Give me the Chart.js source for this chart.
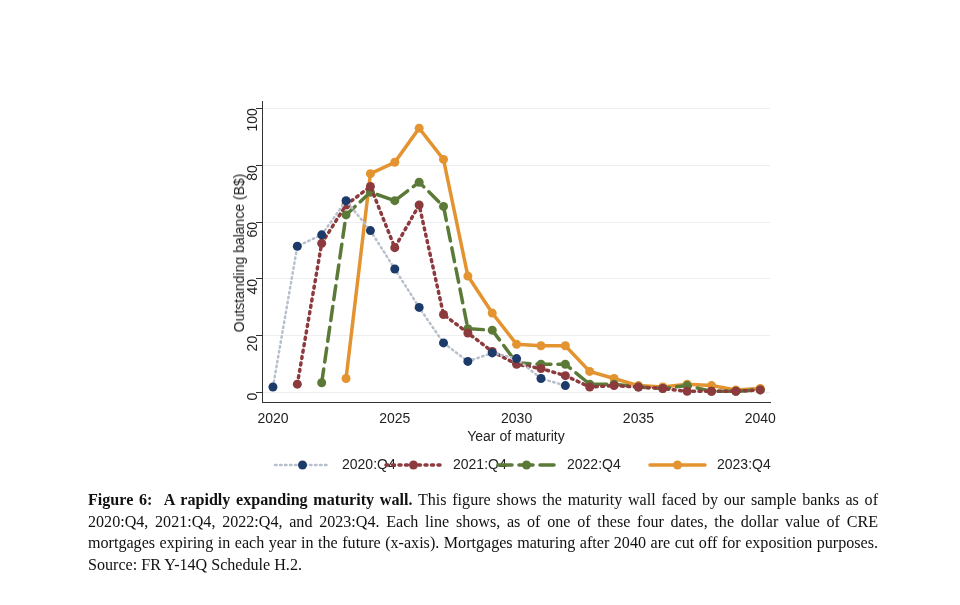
<!DOCTYPE html>
<html><head><meta charset="utf-8">
<script src="https://cdn.jsdelivr.net/npm/chart.js@4.4.1/dist/chart.umd.min.js"></script>
<style>
body{margin:0;background:#fff;width:960px;height:605px;position:relative;overflow:hidden;font-family:"Liberation Sans",Arial,sans-serif}
#wrap{position:absolute;left:200px;top:90px;width:590px;height:400px}
#ytitle{position:absolute;left:239px;top:253px;transform:translate(-50%,-50%) rotate(-90deg);font-size:14px;color:#222;white-space:nowrap}
#cap{position:absolute;left:88px;top:489px;width:790px;font-family:"Liberation Serif","DejaVu Serif",serif;font-size:16.1px;line-height:21.5px;text-align:justify;color:#111}
</style></head><body>
<div id="wrap"><canvas id="c"></canvas></div>
<div id="ytitle">Outstanding balance (B$)</div>
<div id="cap"><b>Figure 6: &nbsp;A rapidly expanding maturity wall.</b> This figure shows the maturity wall faced by our sample banks as of 2020:Q4, 2021:Q4, 2022:Q4, and 2023:Q4. Each line shows, as of one of these four dates, the dollar value of CRE mortgages expiring in each year in the future (x-axis). Mortgages maturing after 2040 are cut off for exposition purposes. Source: FR Y-14Q Schedule H.2.</div>
<script>
const years = [2020,2021,2022,2023,2024,2025,2026,2027,2028,2029,2030,2031,2032,2033,2034,2035,2036,2037,2038,2039,2040];
const s2020 = [2,51.5,55.5,67.5,57,43.5,30,17.5,11,14,12,5,2.5,null,null,null,null,null,null,null,null];
const s2021 = [null,3,52.5,66,72.5,51,66,27.5,21,14.5,10,8.5,6,2,2.5,2,1.5,0.5,0.5,0.5,1];
const s2022 = [null,null,3.5,62.5,70.5,67.5,74,65.5,22.5,22,10.5,10,10,3,3,2,1.5,2.5,0.5,0.5,1];
const s2023 = [null,null,null,5,77,81,93,82,41,28,17,16.5,16.5,7.5,5,2.5,2,3,2.5,1,1.5];
const labels = ['2020:Q4','2021:Q4','2022:Q4','2023:Q4'];
const xTicks = [2020,2025,2030,2035,2040];
const yTicks = [0,20,40,60,80,100];

function pts(arr){ return years.map((y,i)=>({x:y,y:arr[i]})).filter(p=>p.y!==null); }
const styles = [
  {line:'#b7bfcc',pt:'#1c3b6a',dash:[1.5,3.5],w:2.5},
  {line:'#8c3a3d',pt:'#8c3a3d',dash:[2,4.5],w:3.5},
  {line:'#5b7a37',pt:'#5b7a37',dash:[14,7],w:3.5},
  {line:'#e3932f',pt:'#e3932f',dash:[],w:3.5}
];
const series=[s2020,s2021,s2022,s2023];
const datasets = series.map((s,i)=>({
  label:labels[i], data:pts(s), borderColor:styles[i].line, borderDash:styles[i].dash,
  borderWidth:styles[i].w, borderCapStyle:'round', pointBackgroundColor:styles[i].pt,
  pointBorderColor:styles[i].pt, pointBorderWidth:0, pointRadius:4.5, pointHoverRadius:4.5, tension:0
}));

const legendPlugin = {
  id:'leg',
  afterDraw(chart){
    const ctx=chart.ctx; const y=375; const starts=[75,186,298,450]; const len=[55,55,57,55];
    ctx.save();
    styles.forEach((st,i)=>{
      const x0=starts[i];
      ctx.strokeStyle=st.line; ctx.lineWidth=st.w; ctx.lineCap='round'; ctx.setLineDash(st.dash);
      ctx.beginPath(); ctx.moveTo(x0,y); ctx.lineTo(x0+len[i],y); ctx.stroke();
      ctx.setLineDash([]); ctx.fillStyle=st.pt;
      ctx.beginPath(); ctx.arc(x0+len[i]/2,y,4.5,0,Math.PI*2); ctx.fill();
      ctx.fillStyle='#222'; ctx.font='14px "Liberation Sans", Arial'; ctx.textBaseline='middle';
      ctx.fillText(labels[i],x0+len[i]+12,y);
    });
    ctx.restore();
  }
};

new Chart(document.getElementById('c'),{
  type:'line',
  data:{datasets},
  plugins:[legendPlugin],
  options:{
    responsive:true, maintainAspectRatio:false, animation:false,
    layout:{padding:{left:0,right:20,top:10,bottom:40}},
    plugins:{legend:{display:false},tooltip:{enabled:false}},
    scales:{
      x:{type:'linear',min:2019.55,max:2040.4,
        afterBuildTicks(a){a.ticks=xTicks.map(v=>({value:v}));},
        grid:{display:false,drawTicks:true,tickLength:6,color:'#333'},
        border:{color:'#333',width:1},
        ticks:{color:'#222',font:{size:14,family:'"Liberation Sans", Arial'},maxRotation:0,padding:2,callback:v=>String(v)},
        title:{display:true,text:'Year of maturity',color:'#222',font:{size:14,family:'"Liberation Sans", Arial'},padding:{top:0}}
      },
      y:{type:'linear',min:-3.4,max:102.4,afterFit(a){a.width=62;},
        afterBuildTicks(a){a.ticks=yTicks.map(v=>({value:v}));},
        grid:{color:'#eceef0',lineWidth:1,tickLength:6,tickColor:'#333'},
        border:{color:'#333',width:1},
        ticks:{color:'#222',font:{size:14,family:'"Liberation Sans", Arial'},minRotation:90,maxRotation:90,padding:3,callback:v=>String(v)}
      }
    }
  }
});
</script></body></html>
